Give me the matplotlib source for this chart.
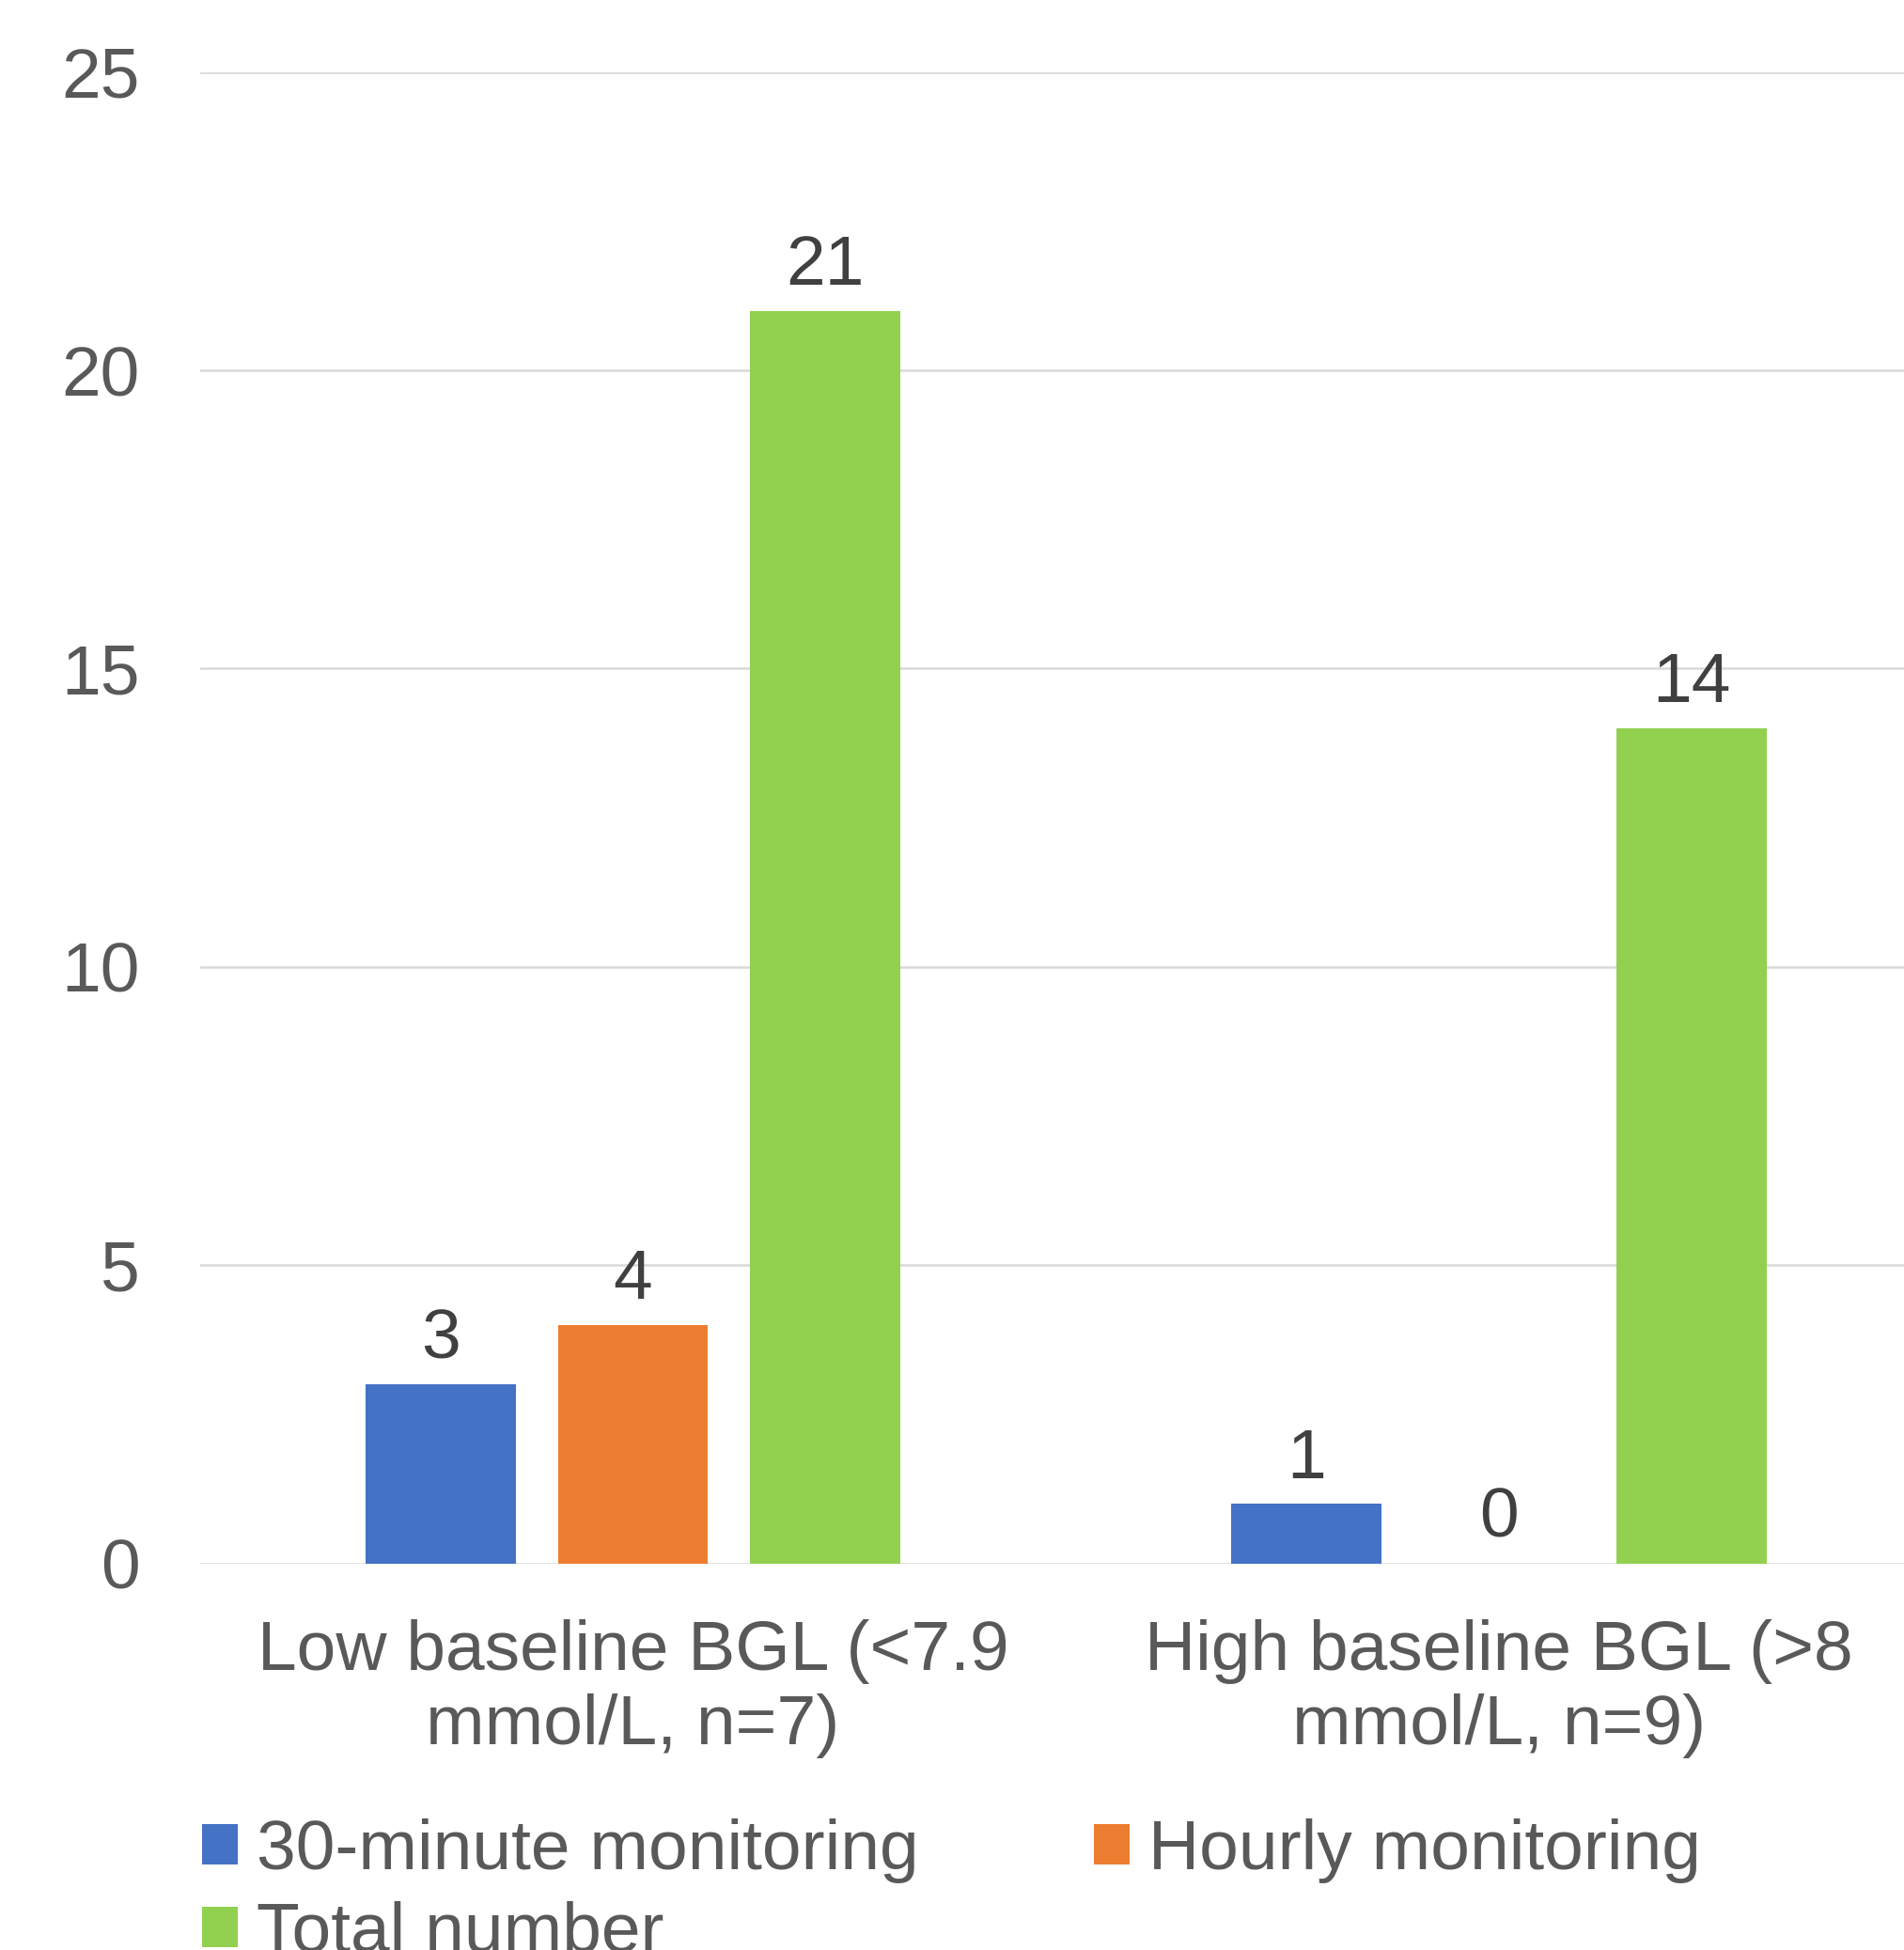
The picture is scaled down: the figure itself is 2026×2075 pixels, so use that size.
import matplotlib
matplotlib.use("Agg")
import matplotlib.pyplot as plt
import numpy as np

categories = ["Low baseline BGL (<7.9\nmmol/L, n=7)", "High baseline BGL (>8\nmmol/L, n=9)"]
series_names = ["30-minute monitoring", "Hourly monitoring", "Total number"]
thirty_min = [3, 1]
hourly = [4, 0]
total = [21, 14]
y_ticks = [0, 5, 10, 15, 20, 25]

colors = ["#4472C4", "#ED7D31", "#92D050"]
plt.rcParams["font.family"] = ["Liberation Sans", "DejaVu Sans"]

W, H = 2026, 2075
fig = plt.figure(figsize=(W / 100, H / 100), dpi=100)
ax = fig.add_axes([212.75 / W, 411.5 / H, 1843.0 / W, 1586.7 / H])

x = np.arange(len(categories))
width = 0.1736
step = 0.222
bars = []
for j, vals in enumerate([thirty_min, hourly, total]):
    b = ax.bar(x + (j - 1) * step, vals, width, color=colors[j], label=series_names[j], zorder=3)
    bars.append(b)
    ax.bar_label(b, labels=[str(v) for v in vals], padding=9, fontsize=54, color="#404040")

ax.set_xlim(-0.5, 1.5)
ax.set_ylim(0, 25)
ax.set_yticks(y_ticks)
ax.set_yticklabels([str(t) for t in y_ticks])
ax.yaxis.grid(True, color="#D9D9D9", linewidth=1.8, zorder=0)
ax.set_axisbelow(True)
ax.tick_params(axis="y", length=0, pad=46, labelsize=54, labelcolor="#595959")
ax.set_xticks(x)
ax.set_xticklabels(categories, linespacing=1.19)
ax.tick_params(axis="x", length=0, pad=43, labelsize=54, labelcolor="#595959")
for s in ax.spines.values():
    s.set_visible(False)

handles = [bars[0], bars[2], bars[1]]
labels = [series_names[0], series_names[2], series_names[1]]
leg = fig.legend(handles, labels, ncol=2, loc="upper left",
                 bbox_to_anchor=(215 / W, 1 - 1935 / H), frameon=False,
                 fontsize=54, handlelength=0.5, handleheight=0.5,
                 handletextpad=0.27, columnspacing=2.49, labelspacing=0.25,
                 borderpad=0, borderaxespad=0)
for t in leg.get_texts():
    t.set_color("#595959")

fig.savefig("out.png", dpi=100)
